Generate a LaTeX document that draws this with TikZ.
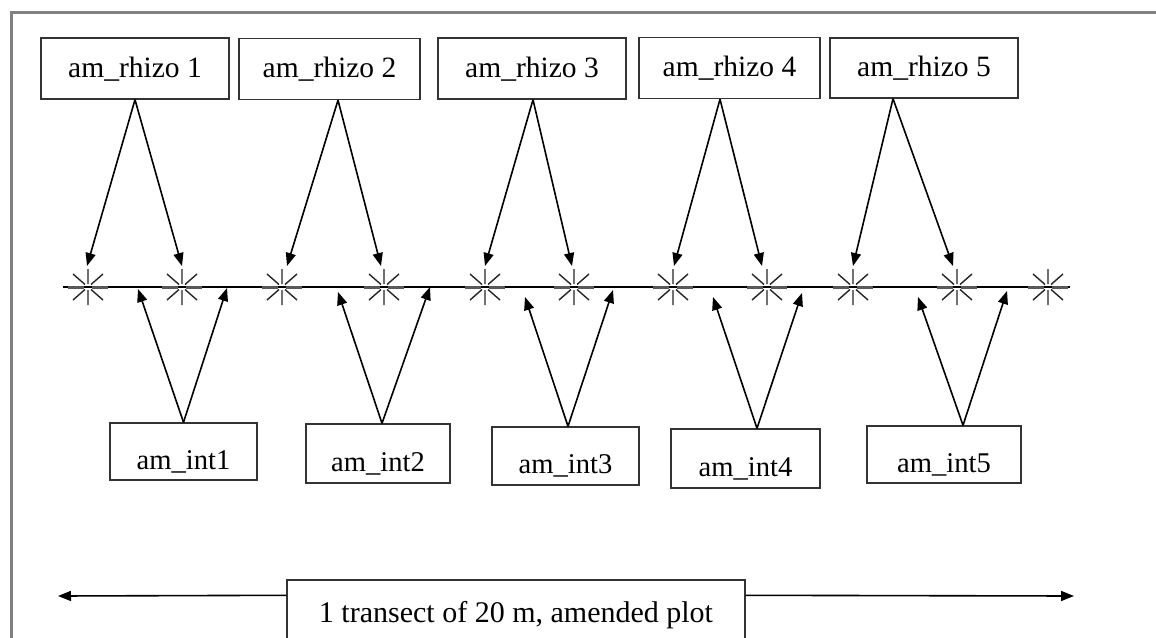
\documentclass[tikz,border=0pt]{standalone}
\usepackage{fontspec}
\setmainfont{Liberation Serif}
\usetikzlibrary{arrows.meta}
\tikzset{
  boxnode/.style={draw=black!80, line width=1.4pt, inner sep=0pt, minimum height=61pt},
  topbox/.style={boxnode, font=\fontsize{29.5}{32}\selectfont, text height=22pt, text depth=5pt},
  intbox/.style={boxnode, font=\fontsize{28.6}{32}\selectfont, text height=38pt, text depth=3pt},
  arr/.style={line width=1.6pt, black, -{Triangle[length=13pt,width=10pt]}},
  framestyle/.style={draw=black!50, line width=3pt},
  astk/.pic={
    \draw[line width=1.4pt, black!85] (0,-18) -- (0,-3) (0,3) -- (0,18)
      (-15,-13) -- (-3,-2.5) (3,2.5) -- (15,13)
      (15,-13) -- (3,-2.5) (-3,2.5) -- (-15,13);
    \draw[line width=3pt, black!65] (-20,0) -- (-4,0) (4,0) -- (20,0);
  }
}
\begin{document}
\begin{tikzpicture}[x=1pt,y=-1pt]
\useasboundingbox (0,0) rectangle (1156,637);
\clip (0,0) rectangle (1156,637);
\fill[white] (0,0) rectangle (1156,637);
% outer frame
\draw[framestyle] (11,12) rectangle (1175,680);

% transect line
\coordinate (lineL) at (63,287);
\coordinate (lineR) at (1070,287);
\draw[line width=1.6pt] (lineL) -- (lineR);

% asterisks
\foreach \n/\x in {1/88,2/182,3/282,4/384,5/485,6/574,7/673,8/767,9/853,10/957,11/1048}{
  \coordinate (s\n) at (\x,287);
  \pic at (s\n) {astk};
}

% top boxes
\node[topbox, minimum width=188pt] (r1) at (135,68.5) {am\_rhizo 1};
\node[topbox, minimum width=181pt] (r2) at (329.5,69) {am\_rhizo 2};
\node[topbox, minimum width=188pt] (r3) at (532,68.5) {am\_rhizo 3};
\node[topbox, minimum width=181pt] (r4) at (729.5,68) {am\_rhizo 4};
\node[topbox, minimum width=188pt, minimum height=60pt] (r5) at (924,68) {am\_rhizo 5};

% top arrow tips
\coordinate (a1l) at (87,266);  \coordinate (a1r) at (182,266);
\coordinate (a2l) at (287,266); \coordinate (a2r) at (381,266);
\coordinate (a3l) at (485,266); \coordinate (a3r) at (572,266);
\coordinate (a4l) at (674,266); \coordinate (a4r) at (762,266);
\coordinate (a5l) at (853,266); \coordinate (a5r) at (953,266);

\draw[arr] ([xshift=0pt]r1.south) -- (a1l);
\draw[arr] ([xshift=0pt]r1.south) -- (a1r);
\draw[arr] ([xshift=8.5pt]r2.south) -- (a2l);
\draw[arr] ([xshift=8.5pt]r2.south) -- (a2r);
\draw[arr] ([xshift=1pt]r3.south) -- (a3l);
\draw[arr] ([xshift=1pt]r3.south) -- (a3r);
\draw[arr] ([xshift=-9.5pt]r4.south) -- (a4l);
\draw[arr] ([xshift=-9.5pt]r4.south) -- (a4r);
\draw[arr] ([xshift=-31pt]r5.south) -- (a5l);
\draw[arr] ([xshift=-31pt]r5.south) -- (a5r);

% bottom boxes
\node[intbox, minimum width=147pt, minimum height=57pt] (i1) at (183.5,451.5) {am\_int1};
\node[intbox, minimum width=144pt, minimum height=59pt] (i2) at (378,453.5) {am\_int2};
\node[intbox, minimum width=147pt, minimum height=58pt] (i3) at (565.5,456) {am\_int3};
\node[intbox, minimum width=149pt, minimum height=59pt] (i4) at (745.5,458.5) {am\_int4};
\node[intbox, minimum width=154pt, minimum height=57pt] (i5) at (944,454.5) {am\_int5};

% bottom arrow tips
\coordinate (b1l) at (138,289); \coordinate (b1r) at (227,288);
\coordinate (b2l) at (338,292); \coordinate (b2r) at (430,287);
\coordinate (b3l) at (525,297); \coordinate (b3r) at (613,290);
\coordinate (b4l) at (713,297); \coordinate (b4r) at (802,293);
\coordinate (b5l) at (918,297); \coordinate (b5r) at (1007,291);

\draw[arr] ([xshift=0pt]i1.north) -- (b1l);
\draw[arr] ([xshift=0pt]i1.north) -- (b1r);
\draw[arr] ([xshift=4pt]i2.north) -- (b2l);
\draw[arr] ([xshift=4pt]i2.north) -- (b2r);
\draw[arr] ([xshift=2.5pt]i3.north) -- (b3l);
\draw[arr] ([xshift=2.5pt]i3.north) -- (b3r);
\draw[arr] ([xshift=11.5pt]i4.north) -- (b4l);
\draw[arr] ([xshift=11.5pt]i4.north) -- (b4r);
\draw[arr] ([xshift=19pt]i5.north) -- (b5l);
\draw[arr] ([xshift=19pt]i5.north) -- (b5r);

% transect box and double arrow
\node[boxnode, font=\fontsize{30}{34}\selectfont, minimum width=458pt, minimum height=80pt, text height=12pt, text depth=8pt] (tr) at (516,620) {1 transect of 20 m, amended plot};
\coordinate (endL) at (58,596);
\coordinate (endR) at (1074,596);
\draw[arr] ([yshift=-16pt]tr.north west) -- (endL);
\draw[arr] ([yshift=-16pt]tr.north east) -- (endR);
\end{tikzpicture}
\end{document}
